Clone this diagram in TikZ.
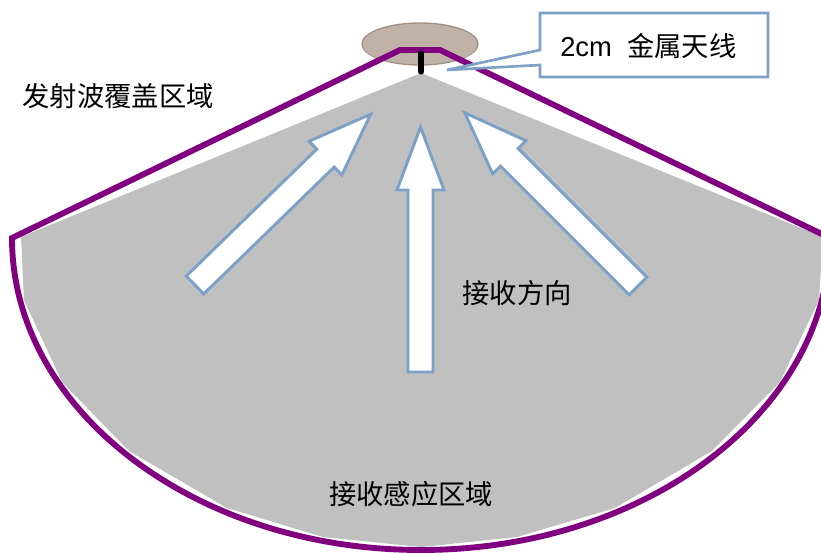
\documentclass[tikz,border=0pt]{standalone}
\usepackage{fontspec}
\setmainfont{Liberation Sans}
\newfontfamily\cjk{Noto Sans CJK SC}
\definecolor{arrowblue}{RGB}{125,161,198}
\definecolor{zonepurple}{RGB}{128,0,128}
\definecolor{zonegray}{RGB}{192,192,192}
\definecolor{diskfill}{RGB}{192,178,167}
\definecolor{diskedge}{RGB}{160,144,133}
\tikzset{
  lbl/.style={inner sep=0pt, font=\cjk\fontsize{20.5}{24}\selectfont, text=black},
  blockarrow/.style={draw=arrowblue, line width=2.2pt, fill=white, line join=miter},
  coverline/.style={draw=zonepurple, line width=4.4pt, line join=miter},
  calloutline/.style={draw=arrowblue, line width=2pt, fill=white, line join=miter}
}
\newcommand{\recvarrow}{(0,-12.5) -- (182,-12.5) -- (182,-23.5) -- (245,0) -- (182,23.5) -- (182,12.5) -- (0,12.5) -- cycle}
\begin{document}
\begin{tikzpicture}[x=0.75pt, y=-0.75pt]
\useasboundingbox (0,0) rectangle (821,553);
\clip (0,0) rectangle (821,553);
% receiving area
\fill[zonegray] (421,73) -- (21,237) -- (24,300) -- (62,382) -- (129,451) -- (227,508)
  -- (323,537) -- (421,547) -- (517,537) -- (615,508) -- (712,451) -- (780,382)
  -- (819,300) -- (823,237) -- cycle;
% antenna disk
\filldraw[fill=diskfill, draw=diskedge, line width=1pt] (420,44) ellipse[x radius=43.5pt, y radius=15.75pt];
\draw[draw=diskedge!70!white, line width=0.8pt] (420,47) ellipse[x radius=41.5pt, y radius=12pt];
% coverage outline
\draw[coverline] (12,238) -- (400,50) -- (440,50) -- (830,238)
  arc[start angle=0, end angle=-180, x radius=306.75pt, y radius=234pt] -- cycle;
% antenna rod
\draw[black, line width=3.8pt, line cap=round] (421,53) -- (421,72);
% receive direction arrows
\draw[blockarrow, shift={(195,285)}, rotate=44.2] \recvarrow;
\draw[blockarrow, shift={(420.5,372)}, rotate=90] \recvarrow;
\draw[blockarrow, shift={(638,286)}, rotate=135] \recvarrow;
% callout
\draw[calloutline] (540,13) -- (768,13) -- (768,77) -- (540,77) -- (540,65) -- (447,70) -- (540,50) -- cycle;
\node[lbl, anchor=west, font=\fontsize{20.5}{24}\selectfont] (antlabel) at (560,46) {2cm\ \ {\cjk 金属天线}};
% labels
\node[lbl] (emitlabel) at (118,96) {发射波覆盖区域};
\node[lbl] (dirlabel) at (517,293) {接收方向};
\node[lbl] (arealabel) at (411,494) {接收感应区域};
\end{tikzpicture}
\end{document}
